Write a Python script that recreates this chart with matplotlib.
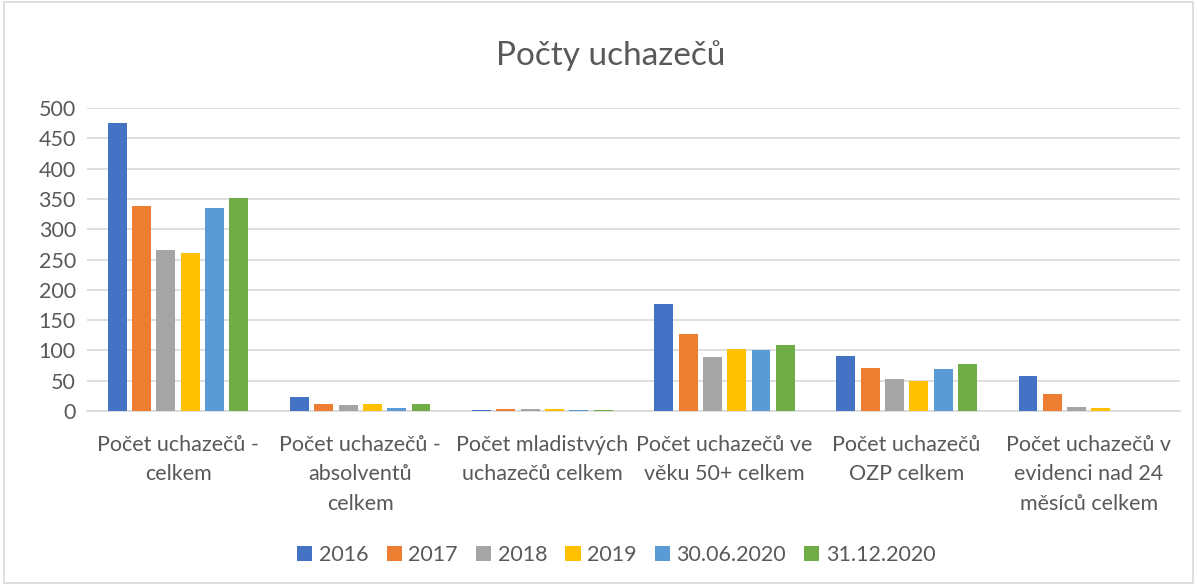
## Počty uchazečů - grouped bar chart

import numpy as np
import matplotlib.pyplot as plt
from matplotlib.patches import Rectangle

plt.rcParams['font.family'] = ['Lato', 'DejaVu Sans']

# categories and series
categories = [
    'Počet uchazečů -\ncelkem',
    'Počet uchazečů -\nabsolventů\ncelkem',
    'Počet mladistvých\nuchazečů celkem',
    'Počet uchazečů ve\nvěku 50+ celkem',
    'Počet uchazečů\nOZP celkem',
    'Počet uchazečů v\nevidenci nad 24\nměsíců celkem',
]
series_names = ['2016', '2017', '2018', '2019', '30.06.2020', '31.12.2020']
v2016 = [475, 23, 1, 176, 90, 57]
v2017 = [338, 12, 3, 127, 71, 28]
v2018 = [266, 10, 4, 89, 53, 7]
v2019 = [261, 12, 3, 102, 49, 5]
v2020a = [335, 5, 2, 101, 70, 0]
v2020b = [351, 12, 2, 109, 78, 0]
values = [v2016, v2017, v2018, v2019, v2020a, v2020b]
colors = ['#4472C4', '#ED7D31', '#A5A5A5', '#FFC000', '#5B9BD5', '#70AD47']

text_col = '#595959'

fig = plt.figure(figsize=(11.97, 5.85), dpi=100)
ax = fig.add_axes([0.0727, 0.2974, 0.913, 0.518])

x = np.arange(len(categories))
slot = 0.1335
width = 0.104
for i, (name, vals) in enumerate(zip(series_names, values)):
    ax.bar(x + (i - 2.5) * slot, vals, width, color=colors[i], label=name, zorder=3)

ax.set_xlim(-0.5, len(categories) - 0.5)
ax.set_ylim(0, 500)
ax.set_yticks(range(0, 501, 50))
ax.grid(axis='y', color='#D9D9D9', linewidth=1.2, zorder=0)
for s in ['top', 'right', 'left']:
    ax.spines[s].set_visible(False)
ax.spines['bottom'].set_color('#D9D9D9')
ax.spines['bottom'].set_linewidth(1.2)
ax.tick_params(axis='both', length=0, labelsize=15.5, colors=text_col, pad=8)
ax.tick_params(axis='x', pad=17)
ax.set_xticks(x)
ax.set_xticklabels(categories, linespacing=1.6)

fig.text(0.51, 0.905, 'Počty uchazečů', ha='center', va='center', fontsize=24, color=text_col)

leg = fig.legend(loc='center', bbox_to_anchor=(0.515, 0.052), ncol=6, frameon=False,
                 fontsize=15.5, handlelength=0.7, handleheight=0.7, handletextpad=0.3,
                 columnspacing=0.85)
for t in leg.get_texts():
    t.set_color(text_col)

fig.patches.append(Rectangle((0.003, 0.004), 0.994, 0.992, transform=fig.transFigure,
                             fill=False, edgecolor='#D9D9D9', linewidth=1.2))

fig.savefig('out.png', dpi=100)
